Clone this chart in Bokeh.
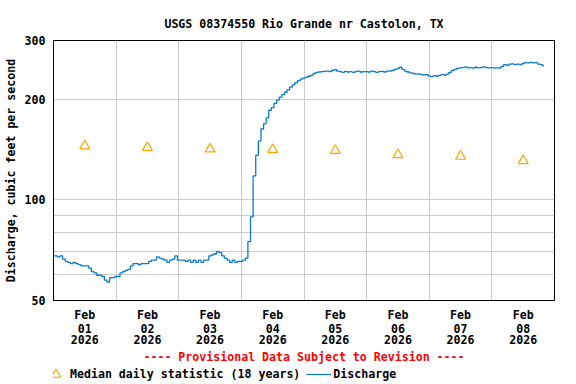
import pandas as pd
from bokeh.plotting import figure
from bokeh.layouts import column
from bokeh.models import FixedTicker, Legend, LegendItem, Range1d, DatetimeAxis
from bokeh.embed import file_html
from bokeh.resources import INLINE

# ---------------- data ----------------
title_text = "USGS 08374550 Rio Grande nr Castolon, TX"
y_label_text = "Discharge, cubic feet per second"
provisional_text = "---- Provisional Data Subject to Revision ----"
median_label = "Median daily statistic (18 years)"
discharge_label = "Discharge"

day_dates = ["2026-02-01", "2026-02-02", "2026-02-03", "2026-02-04",
             "2026-02-05", "2026-02-06", "2026-02-07", "2026-02-08"]
tick_month = ["Feb", "Feb", "Feb", "Feb", "Feb", "Feb", "Feb", "Feb"]
tick_day = ["01", "02", "03", "04", "05", "06", "07", "08"]
tick_year = ["2026", "2026", "2026", "2026", "2026", "2026", "2026", "2026"]
median_cfs = [145, 143.5, 142, 141.5, 140.5, 136.5, 135, 131]

y_tick_values = [50, 100, 200, 300]
y_grid_values = [60, 70, 80, 90, 100, 200]

# hourly discharge (cfs), starting Feb 01 00:00
day1 = [68, 68, 67.5, 68, 66.5, 65.5, 65, 64.5, 65, 64.5, 64, 63.5,
        63.5, 63.5, 62.5, 61, 60.5, 59.5, 59.5, 59, 57.5, 56.8, 58.5, 58.5]
day2 = [59, 59, 60.5, 61, 61.5, 62, 63.5, 64.5, 64.5, 64, 64.5, 64.5,
        64.5, 65.5, 66, 66, 67.5, 67, 66.5, 66, 65, 66, 66.5, 68]
day3 = [66, 66, 66, 65.5, 66, 65, 66, 65, 66, 65, 66, 66,
        68, 68.5, 69, 70, 69.5, 68, 67, 66, 65, 66, 65, 65.5]
day4 = [65.5, 66, 67, 75, 89, 118, 136, 150, 163, 169, 176, 185.5,
        189, 194.5, 199, 203, 206.5, 210, 213.5, 217.5, 221, 224.5, 227.5, 230]
day5 = [231.5, 233, 234.5, 236, 239, 241, 241.5, 242, 242.5, 243, 242, 244,
        245.5, 243, 242, 241, 242.5, 241.5, 242, 241, 242, 243, 241.5, 242]
day6 = [242, 241.5, 243, 242, 241, 242, 242.5, 241.5, 243, 243, 244, 246,
        247, 249.5, 246, 243, 241.5, 240, 239, 238, 238.5, 237, 236.5, 237]
day7 = [235, 234, 235.5, 234.5, 236, 237, 236.5, 238, 241, 244, 246, 247.5,
        248.5, 249, 250, 248.5, 249, 248, 249.5, 248.5, 249, 250, 249, 248.5]
day8 = [249, 248, 248.5, 248, 251, 254, 253, 255, 255.5, 254, 255, 254,
        256, 257.5, 257, 258, 257, 257.5, 255, 254, 252]

discharge = day1 + day2 + day3 + day4 + day5 + day6 + day7 + day8
times = pd.date_range("2026-02-01 00:00", periods=len(discharge), freq="h")

day_starts = pd.to_datetime(day_dates)
median_times = day_starts + pd.Timedelta(hours=12)


def ms(ts):
    return ts.value / 1e6


noon_ms = [ms(t) for t in median_times]
midnight_ms = [ms(t) for t in day_starts[1:]]
x_start = day_starts[0]
x_end = day_starts[-1] + pd.Timedelta(days=1)

# ---------------- styles ----------------
FONT = "DejaVu Sans Mono"
FSIZE = "11.6px"
BLUE = "#0a7cd0"
ORANGE = "#FFA500"
GRID = "#cccccc"

p = figure(width=576, height=367, x_axis_type="datetime", y_axis_type="log",
           x_range=Range1d(x_start, x_end), y_range=Range1d(50, 300),
           output_backend="svg", toolbar_location=None,
           min_border_left=51, min_border_right=22, min_border_top=40,
           min_border_bottom=67)
p.background_fill_color = "white"
p.border_fill_color = "white"
p.outline_line_color = "black"
p.outline_line_width = 1
p.outline_line_alpha = 1

# title
p.title.text = title_text
p.title.align = "center"
p.title.text_font = FONT
p.title.text_font_style = "bold"
p.title.text_font_size = FSIZE
p.title.text_color = "black"
p.title.standoff = 20


def style_axis(ax, standoff):
    ax.major_tick_out = 0
    ax.major_tick_in = 0
    ax.minor_tick_out = 0
    ax.minor_tick_in = 0
    ax.major_label_text_font = FONT
    ax.major_label_text_font_style = "bold"
    ax.major_label_text_font_size = FSIZE
    ax.major_label_text_color = "black"
    ax.major_label_standoff = standoff


# x axes: three stacked rows of labels (month / day / year)
p.xaxis.ticker = FixedTicker(ticks=noon_ms)
p.xaxis.major_label_overrides = {t: s for t, s in zip(noon_ms, tick_month)}
p.xaxis.axis_line_color = "black"
style_axis(p.xaxis, 7)

ax_day = DatetimeAxis(ticker=FixedTicker(ticks=noon_ms),
                      major_label_overrides={t: s for t, s in zip(noon_ms, tick_day)},
                      axis_line_color=None)
style_axis(ax_day, -1)
p.add_layout(ax_day, "below")

ax_year = DatetimeAxis(ticker=FixedTicker(ticks=noon_ms),
                       major_label_overrides={t: s for t, s in zip(noon_ms, tick_year)},
                       axis_line_color=None)
style_axis(ax_year, -1)
# provisional note as the label of the lowest axis row
ax_year.axis_label = provisional_text
ax_year.axis_label_text_font = FONT
ax_year.axis_label_text_font_style = "bold"
ax_year.axis_label_text_font_size = FSIZE
ax_year.axis_label_text_color = "#ff0000"
ax_year.axis_label_standoff = 3
p.add_layout(ax_year, "below")

# y axis
p.yaxis.ticker = FixedTicker(ticks=y_tick_values)
p.yaxis.major_label_overrides = {v: str(v) for v in y_tick_values}
p.yaxis.axis_line_color = "black"
style_axis(p.yaxis, 8)
p.yaxis.axis_label = y_label_text
p.yaxis.axis_label_text_font = FONT
p.yaxis.axis_label_text_font_style = "bold"
p.yaxis.axis_label_text_font_size = FSIZE
p.yaxis.axis_label_text_color = "black"
p.yaxis.axis_label_standoff = 4

# grids
p.xgrid.ticker = FixedTicker(ticks=midnight_ms)
p.ygrid.ticker = FixedTicker(ticks=y_grid_values)
p.xgrid.grid_line_color = GRID
p.ygrid.grid_line_color = GRID
p.xgrid.grid_line_width = 1
p.ygrid.grid_line_width = 1

# glyphs
r_line = p.step(x=times, y=discharge, mode="center", line_color=BLUE, line_width=1.3)
r_tri = p.scatter(x=median_times, y=median_cfs, marker="triangle", size=10,
                  fill_color=None, line_color=ORANGE, line_width=1.2)

# ---------------- legend strip ----------------
q = figure(width=576, height=17, x_range=Range1d(0, 576), y_range=Range1d(0, 17),
           output_backend="svg", toolbar_location=None,
           x_axis_location=None, y_axis_location=None,
           min_border_left=0, min_border_right=0, min_border_top=0,
           min_border_bottom=0)
q.grid.visible = False
q.outline_line_color = None
q.background_fill_color = "white"
q.border_fill_color = "white"
# legend keys: same styles as the plotted series (kept outside the visible strip)
leg_tri = q.scatter(x=[-100], y=[-100], marker="triangle", size=10,
                    fill_color=None, line_color=ORANGE, line_width=1.2)
leg_line = q.line(x=[-100, -90], y=[-100, -100], line_color=BLUE, line_width=1.3)

legend = Legend(items=[LegendItem(label=median_label, renderers=[leg_tri]),
                       LegendItem(label=discharge_label, renderers=[leg_line])],
                location=(-10, -2), orientation="horizontal",
                border_line_color=None, background_fill_alpha=0,
                padding=0, margin=0, spacing=6, label_standoff=2,
                glyph_width=25, glyph_height=24, label_height=24,
                label_text_font=FONT, label_text_font_size=FSIZE,
                label_text_font_style="bold", label_text_color="black")
q.add_layout(legend)

layout = column(p, q, spacing=0)

open("out.html", "w").write(file_html(layout, INLINE))
